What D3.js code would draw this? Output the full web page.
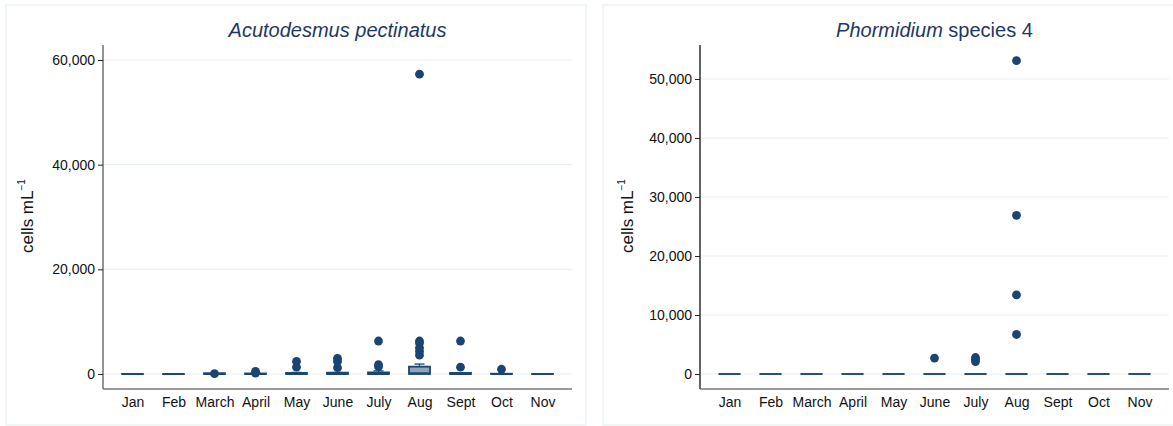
<!DOCTYPE html>
<html>
<head>
<meta charset="utf-8">
<script src="https://cdn.jsdelivr.net/npm/d3@7"></script>
<style>
  body { margin: 0; background: #fff; }
  svg { display: block; font-family: "Liberation Sans", Arial, sans-serif; }
</style>
</head>
<body>
<svg id="chart" width="1173" height="426"></svg>
<script>
// months on the x axis
const months = ["Jan", "Feb", "March", "April", "May", "June", "July", "Aug", "Sept", "Oct", "Nov"];

// Acutodesmus pectinatus, box stats per month (cells/mL)
const acutoQ1 = [0, 0, 0, 0, 0, 0, 0, 0, 0, 0, 0];
const acutoMed = [0, 0, 0, 0, 0, 0, 0, 150, 0, 0, 0];
const acutoQ3 = [0, 0, 150, 100, 200, 250, 300, 1400, 200, 50, 0];
const acutoHi = [0, 0, 150, 200, 300, 300, 600, 1900, 200, 50, 0];
const acutoOut = [[], [], [50], [500, 150], [2400, 1300], [3000, 2400, 1200], [6300, 1800, 1400],
  [57300, 6300, 5900, 5000, 4300, 3600], [6300, 1300], [900], []];
const acutoTicks = [0, 20000, 40000, 60000];

// Phormidium species 4
const phormQ1 = [0, 0, 0, 0, 0, 0, 0, 0, 0, 0, 0];
const phormMed = [0, 0, 0, 0, 0, 0, 0, 0, 0, 0, 0];
const phormQ3 = [0, 0, 0, 0, 0, 0, 0, 0, 0, 0, 0];
const phormHi = [0, 0, 0, 0, 0, 0, 0, 0, 0, 0, 0];
const phormOut = [[], [], [], [], [], [2700], [2800, 2500, 2100], [53100, 26900, 13400, 6700], [], [], []];
const phormTicks = [0, 10000, 20000, 30000, 40000, 50000];

const svg = d3.select("#chart");
const navy = "#1a4572";

function drawPanel(p) {
  const g = svg.append("g");

  // panel frame
  g.append("rect")
    .attr("x", p.frame[0]).attr("y", p.frame[1])
    .attr("width", p.frame[2]).attr("height", p.frame[3])
    .attr("fill", "none").attr("stroke", "#e6eef1").attr("stroke-width", 1.2);

  const x = d3.scalePoint().domain(months).range([p.left, p.right]).padding(0.72);
  const y = d3.scaleLinear().domain(p.yDomain).range([389, 45]);

  // gridlines
  g.selectAll(".grid").data(p.ticks).enter().append("line")
    .attr("x1", p.left).attr("x2", p.right)
    .attr("y1", d => y(d)).attr("y2", d => y(d))
    .attr("stroke", "#e8f0f3").attr("stroke-width", 1.2);

  // y axis
  const yAxis = g.append("g")
    .attr("transform", "translate(" + p.left + ",0)")
    .call(d3.axisLeft(y).tickValues(p.ticks).tickFormat(d3.format(",")).tickSize(5).tickPadding(3));
  yAxis.select(".domain").attr("stroke", p.axisColor).attr("stroke-width", 1.4)
    .attr("d", "M0," + y.range()[0] + "V" + y.range()[1]);
  yAxis.selectAll(".tick line").attr("stroke", "#222");
  yAxis.selectAll("text").attr("font-size", 14).attr("fill", "#111");

  // x axis
  const xAxis = g.append("g")
    .attr("transform", "translate(0,389)")
    .call(d3.axisBottom(x).tickSize(0).tickPadding(8));
  xAxis.select(".domain").attr("stroke", "#777").attr("stroke-width", 1.6)
    .attr("d", "M" + p.left + ",0H" + p.right);
  xAxis.selectAll("text").attr("font-size", 14).attr("fill", "#111");

  // y label
  const yl = g.append("text")
    .attr("transform", "translate(" + p.ylabX + ",216) rotate(-90)")
    .attr("text-anchor", "middle").attr("font-size", 17).attr("fill", "#111");
  yl.append("tspan").text("cells mL");
  yl.append("tspan").attr("font-size", 10).attr("dy", -8).text("\u22121");

  // title
  const t = g.append("text")
    .attr("x", (p.left + p.right) / 2).attr("y", 37)
    .attr("text-anchor", "middle").attr("font-size", 20).attr("fill", "#1f3764");
  p.title.forEach(s => t.append("tspan").attr("font-style", s[1] ? "italic" : "normal").text(s[0]));

  const bw = 21;
  const boxes = months.map((m, i) => ({
    m, q1: p.q1[i], med: p.med[i], q3: p.q3[i], hi: p.hi[i], out: p.out[i]
  }));

  // whiskers
  const wh = boxes.filter(b => b.hi > b.q3 + 1);
  g.selectAll(".wv").data(wh).enter().append("line")
    .attr("x1", b => x(b.m)).attr("x2", b => x(b.m))
    .attr("y1", b => y(b.q3)).attr("y2", b => y(b.hi))
    .attr("stroke", navy).attr("stroke-width", 1.3);
  g.selectAll(".wc").data(wh).enter().append("line")
    .attr("x1", b => x(b.m) - 5).attr("x2", b => x(b.m) + 5)
    .attr("y1", b => y(b.hi)).attr("y2", b => y(b.hi))
    .attr("stroke", navy).attr("stroke-width", 1.3);

  // boxes
  g.selectAll(".box").data(boxes).enter().append("rect")
    .attr("x", b => x(b.m) - bw / 2).attr("width", bw)
    .attr("y", b => y(b.q3))
    .attr("height", b => Math.max(0.01, y(b.q1) - y(b.q3)))
    .attr("fill", "#8fa3bb").attr("stroke", navy).attr("stroke-width", p.boxStroke);

  // medians
  g.selectAll(".med").data(boxes).enter().append("line")
    .attr("x1", b => x(b.m) - bw / 2).attr("x2", b => x(b.m) + bw / 2)
    .attr("y1", b => y(b.med)).attr("y2", b => y(b.med))
    .attr("stroke", navy).attr("stroke-width", p.boxStroke);

  // outside values
  const pts = boxes.flatMap(b => b.out.map(v => ({ m: b.m, v })));
  g.selectAll(".pt").data(pts).enter().append("circle")
    .attr("cx", d => x(d.m)).attr("cy", d => y(d.v)).attr("r", 4.4)
    .attr("fill", navy);
}

drawPanel({
  frame: [6, 5, 580, 420], left: 103, right: 572, ylabX: 33,
  yDomain: [-2870, 62870], ticks: acutoTicks, axisColor: "#666", boxStroke: 1.8,
  title: [["Acutodesmus pectinatus", true]],
  q1: acutoQ1, med: acutoMed, q3: acutoQ3, hi: acutoHi, out: acutoOut
});
drawPanel({
  frame: [603, 5, 580, 420], left: 700, right: 1169, ylabX: 633,
  yDomain: [-2540, 55760], ticks: phormTicks, axisColor: "#222", boxStroke: 1.5,
  title: [["Phormidium", true], [" species 4", false]],
  q1: phormQ1, med: phormMed, q3: phormQ3, hi: phormHi, out: phormOut
});
</script>
</body>
</html>
